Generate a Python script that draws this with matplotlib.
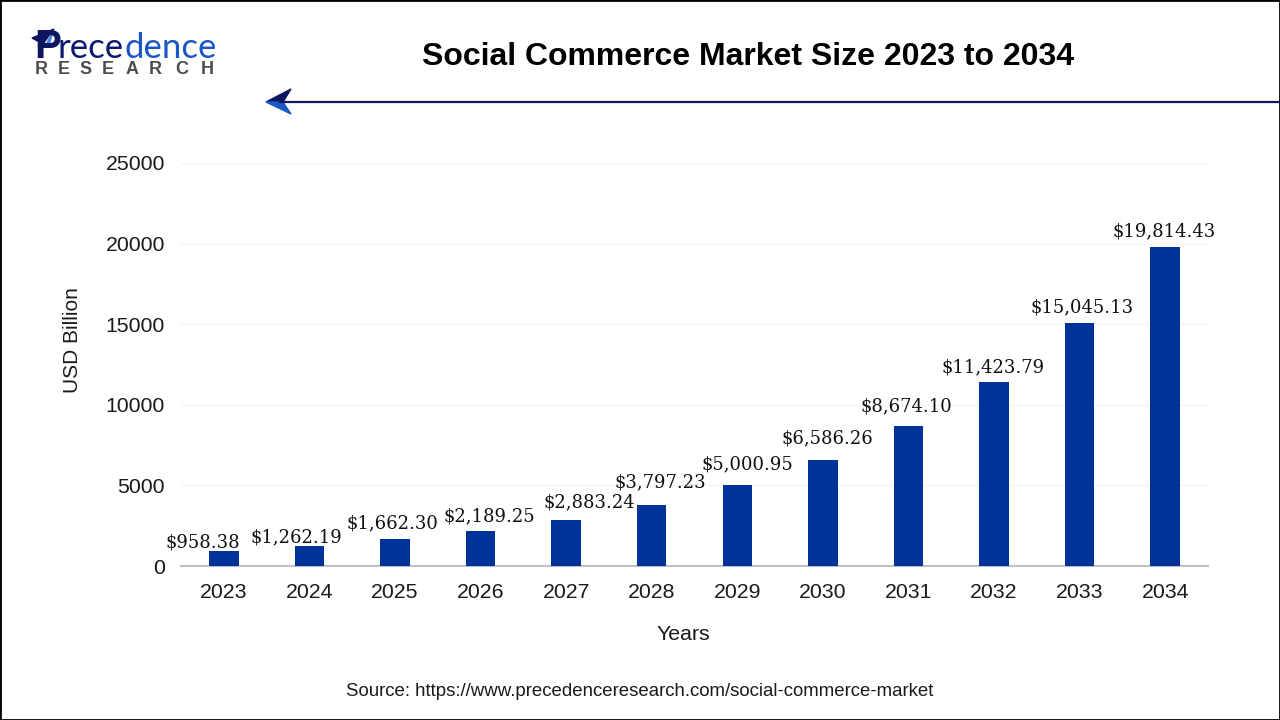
import matplotlib
matplotlib.use("Agg")
import matplotlib.pyplot as plt
from matplotlib.patches import Polygon, Rectangle
from matplotlib.lines import Line2D

years = ["2023", "2024", "2025", "2026", "2027", "2028",
         "2029", "2030", "2031", "2032", "2033", "2034"]
market_size = [958.38, 1262.19, 1662.30, 2189.25, 2883.24, 3797.23,
               5000.95, 6586.26, 8674.10, 11423.79, 15045.13, 19814.43]
y_ticks = [0, 5000, 10000, 15000, 20000, 25000]

# the labels sit off centre in the original, shift in pixels from the bar top
label_dx = [-21, -13, -3, 9, 23, 9, 10, 5, -2, -1, 2, -1]
label_dy = [8, 8, 16, 14, 17, 22, 21, 21, 20, 14, 16, 15]

W, H = 1280, 720
plt.rcParams["font.family"] = ["Liberation Sans", "DejaVu Sans"]


def fx(px):
    return px / W


def fy(px):
    return 1 - px / H


fig = plt.figure(figsize=(W / 100, H / 100), dpi=100, facecolor="white")
ax = fig.add_axes([fx(181), fy(566), (1208 - 181) / W, (566 - 163) / H])

x = range(len(years))
ax.bar(x, market_size, width=0.345, color="#003399", zorder=3)
ax.set_xlim(-0.5, 11.5)
ax.set_ylim(0, 25000)

for i, v, dx, dy in zip(x, market_size, label_dx, label_dy):
    ax.annotate(f"${v:,.2f}", (i, v), xytext=(dx * 0.72, dy * 0.72), textcoords="offset points",
                ha="center", va="center", fontsize=13, family="DejaVu Serif",
                color="#111111", zorder=4)

ax.set_xticks(list(x), years)
ax.set_yticks(y_ticks, [str(t) for t in y_ticks])
ax.tick_params(axis="both", length=0, labelsize=15.3, colors="#1a1a1a")
ax.tick_params(axis="x", pad=12)
ax.tick_params(axis="y", pad=11.5)
ax.grid(axis="y", color="#f4f4f4", linewidth=1, zorder=0)
for name in ["top", "right", "left"]:
    ax.spines[name].set_visible(False)
ax.spines["bottom"].set_color("#bfbfbf")
ax.spines["bottom"].set_linewidth(1.5)

fig.text(fx(73), fy(340), "USD Billion", rotation=90, ha="center", va="center",
         fontsize=15, color="#1a1a1a")
fig.text(fx(683), fy(634), "Years", ha="center", va="center",
         fontsize=15.3, color="#1a1a1a")
fig.text(fx(640), fy(691), "Source: https://www.precedenceresearch.com/social-commerce-market",
         ha="center", va="center", fontsize=13.4, color="#1a1a1a")
fig.text(fx(748), fy(57), "Social Commerce Market Size 2023 to 2034",
         ha="center", va="center", fontsize=23, fontweight="bold", color="black")

# logo, approximated with text
fig.text(fx(34), fy(58), "P", ha="left", va="baseline", fontsize=29,
         fontweight="bold", color="#0b1560")
fig.text(fx(58), fy(58), "rece", ha="left", va="baseline", fontsize=25,
         family="Lato", color="#0b1a70")
fig.text(fx(124), fy(58), "dence", ha="left", va="baseline", fontsize=25,
         family="Lato", color="#1a56c4")
for letter, px in zip("RESEARCH", [41, 64, 86, 108, 132, 155, 182, 207]):
    fig.text(fx(px), fy(70), letter, ha="center", va="center", fontsize=13,
             fontweight="bold", color="#4d4d4d")

# plane mark on the P
fig.add_artist(Polygon([(fx(32), fy(38)), (fx(54), fy(29)), (fx(43), fy(44))],
                       closed=True, transform=fig.transFigure, color="#0b1560"))
fig.add_artist(Polygon([(fx(44), fy(48)), (fx(53), fy(31)), (fx(49), fy(43))],
                       closed=True, transform=fig.transFigure, color="#ffffff"))
fig.add_artist(Polygon([(fx(46), fy(45)), (fx(53), fy(31)), (fx(50), fy(42))],
                       closed=True, transform=fig.transFigure, color="#3f86d9"))

# header arrow
fig.add_artist(Line2D([fx(280), 1], [fy(102), fy(102)], color="#0b1560", linewidth=1.6))
fig.add_artist(Polygon([(fx(266), fy(102)), (fx(291), fy(89)), (fx(283), fy(102))],
                       closed=True, transform=fig.transFigure, color="#0b1560"))
fig.add_artist(Polygon([(fx(266), fy(102)), (fx(291), fy(114)), (fx(283), fy(102))],
                       closed=True, transform=fig.transFigure, color="#1a56c4"))

# image border
fig.add_artist(Rectangle((0, 0), 1, 1, transform=fig.transFigure, fill=False,
                         edgecolor="black", linewidth=2))

fig.savefig("out.png", dpi=100)
